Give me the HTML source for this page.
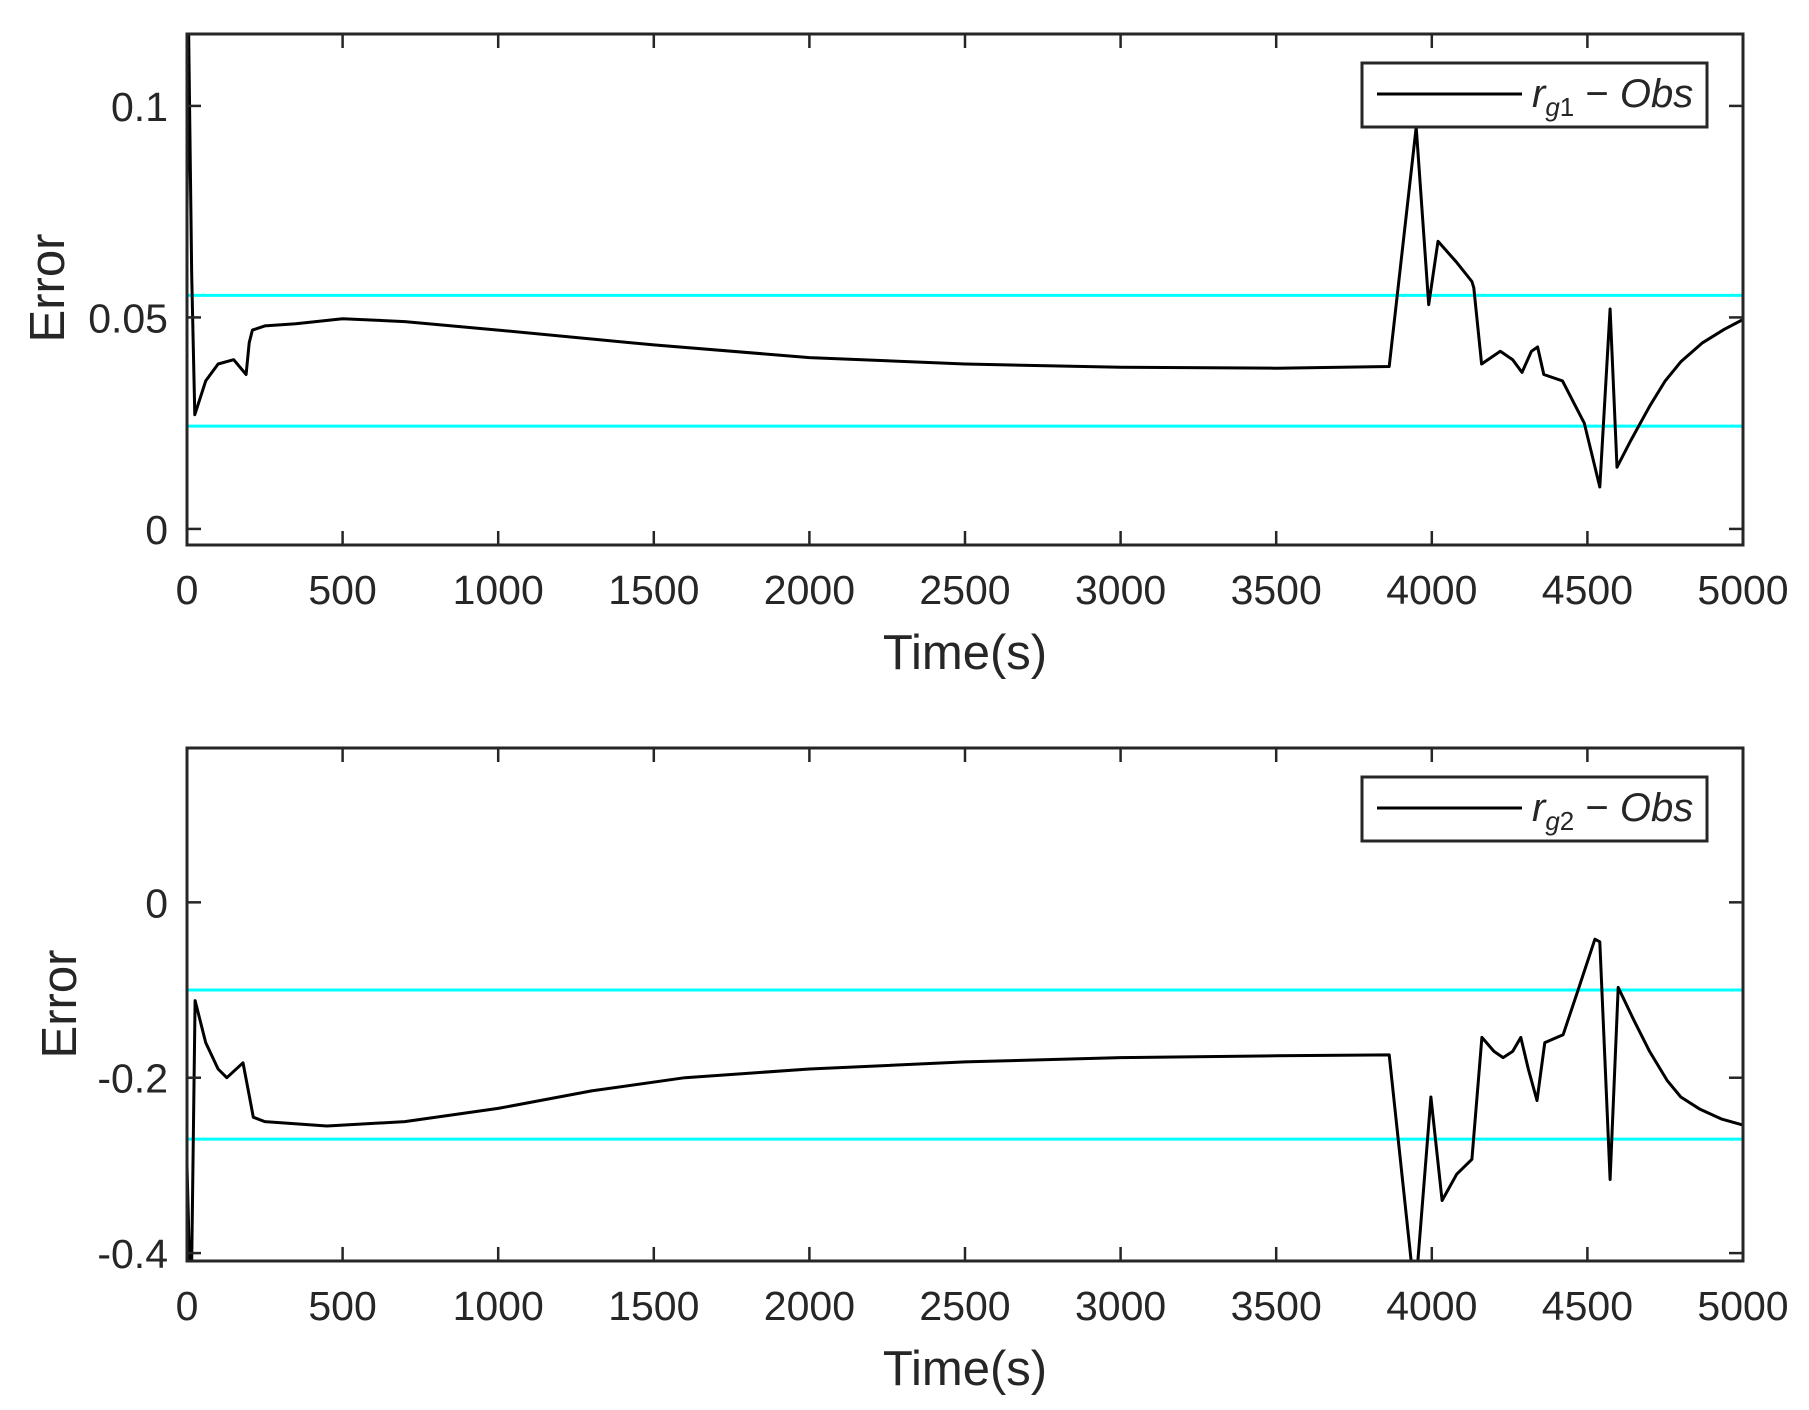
<!DOCTYPE html>
<html><head><meta charset="utf-8"><style>
html,body{margin:0;padding:0;background:#fff;}
svg{display:block;}
text{font-family:"Liberation Sans",sans-serif;fill:#262626;}
</style></head><body>
<svg id="chart" width="1809" height="1410" viewBox="0 0 1809 1410" xmlns="http://www.w3.org/2000/svg"></svg>
<script>
const xTicks=[0,500,1000,1500,2000,2500,3000,3500,4000,4500,5000];
const y1Ticks=[0,0.05,0.1];
const y1TickLabels=["0","0.05","0.1"];
const y2Ticks=[-0.4,-0.2,0];
const y2TickLabels=["-0.4","-0.2","0"];
const bounds1=[0.0552,0.0243];
const bounds2=[-0.1,-0.27];
const t1=[0,5,15,25,60,100,150,190,200,210,250,350,500,700,1000,1500,2000,2500,3000,3500,3863,3950,3990,4020,4080,4129,4135,4160,4220,4260,4290,4320,4340,4360,4420,4490,4540,4573,4595,4640,4700,4750,4800,4870,4940,5000];
const v1=[0.075,0.118,0.06,0.027,0.035,0.039,0.040,0.0365,0.044,0.047,0.048,0.0485,0.0497,0.0490,0.0470,0.0435,0.0405,0.0390,0.0382,0.0380,0.0384,0.095,0.053,0.068,0.063,0.0585,0.057,0.039,0.042,0.040,0.037,0.042,0.043,0.0365,0.035,0.025,0.0099,0.052,0.0146,0.021,0.029,0.035,0.0395,0.0440,0.0472,0.0495];
const t2=[0,8,15,26,60,100,128,180,200,213,250,450,700,1000,1300,1600,2000,2500,3000,3500,3863,3946,3997,4033,4080,4129,4161,4200,4229,4260,4286,4310,4338,4363,4422,4470,4524,4540,4573,4599,4650,4700,4756,4800,4862,4930,5000];
const v2=[-0.3,-0.41,-0.41,-0.112,-0.16,-0.19,-0.2,-0.183,-0.22,-0.245,-0.25,-0.255,-0.25,-0.235,-0.215,-0.2,-0.19,-0.182,-0.177,-0.175,-0.174,-0.45,-0.222,-0.34,-0.31,-0.293,-0.154,-0.17,-0.177,-0.17,-0.154,-0.19,-0.226,-0.16,-0.151,-0.1,-0.042,-0.045,-0.316,-0.097,-0.135,-0.17,-0.203,-0.222,-0.236,-0.247,-0.254];

const NS="http://www.w3.org/2000/svg";
const svg=document.getElementById('chart');
function mk(tag,attrs,parent){const e=document.createElementNS(NS,tag);for(const k in attrs)e.setAttribute(k,attrs[k]);(parent||svg).appendChild(e);return e;}
const X0=187,X1=1743;
function xs(t){return X0+(t/5000)*(X1-X0);}

function panel(idx,top,bottom,yMin,yMax,yTicks,yLabels,bnds,tt,vv,legendY,legendSub){
  const ys=v=>bottom-(v-yMin)/(yMax-yMin)*(bottom-top);
  const g=mk('g',{});
  
  
  const cp=mk('clipPath',{id:'clip'+idx},g);
  mk('rect',{x:X0,y:top,width:X1-X0,height:bottom-top},cp);
  const pg=mk('g',{'clip-path':'url(#clip'+idx+')'},g);
  bnds.forEach((b,i)=>{
    const l=mk('line',{x1:X0,x2:X1,y1:ys(b),y2:ys(b),stroke:'#00ffff','stroke-width':3},pg);
    
    
  });
  const pts=tt.map((t,i)=>xs(t).toFixed(1)+','+ys(vv[i]).toFixed(1)).join(' ');
  const pl=mk('polyline',{points:pts,fill:'none',stroke:'#000','stroke-width':3,'stroke-linejoin':'round'},pg);
  
  
  // ticks
  xTicks.forEach(t=>{
    const x=xs(t);
    mk('line',{x1:x,x2:x,y1:bottom,y2:bottom-14,stroke:'#262626','stroke-width':2.5},g);
    mk('line',{x1:x,x2:x,y1:top,y2:top+14,stroke:'#262626','stroke-width':2.5},g);
    const tx=mk('text',{x:x,y:bottom+59,'font-size':41,'text-anchor':'middle'},g);
    tx.textContent=t;
    
    
  });
  yTicks.forEach((v,i)=>{
    const y=ys(v);
    mk('line',{x1:X0,x2:X0+14,y1:y,y2:y,stroke:'#262626','stroke-width':2.5},g);
    mk('line',{x1:X1,x2:X1-14,y1:y,y2:y,stroke:'#262626','stroke-width':2.5},g);
    const tx=mk('text',{x:168,y:y+15,'font-size':41,'text-anchor':'end'},g);
    tx.textContent=yLabels[i];
    
    
  });
  const fr=mk('rect',{x:X0,y:top,width:X1-X0,height:bottom-top,fill:'none',stroke:'#262626','stroke-width':3},g);
  
  
  const xl=mk('text',{x:(X0+X1)/2,y:bottom+124,'font-size':49,'text-anchor':'middle'},g);
  xl.textContent='Time(s)';
  
  
  const ylx=idx==1?48:60, yly=idx==1?288:1004;
  const yl=mk('text',{x:ylx,y:yly,'font-size':49,'text-anchor':'middle','dominant-baseline':'central',transform:'rotate(-90 '+ylx+' '+yly+')'},g);
  yl.textContent='Error';
  
  
  // legend
  const lg=mk('g',{},g);
  
  
  mk('rect',{x:1362,y:legendY,width:345,height:64,fill:'#fff',stroke:'#262626','stroke-width':3},lg);
  mk('line',{x1:1377,x2:1522,y1:legendY+31,y2:legendY+31,stroke:'#000','stroke-width':3},lg);
  const lt=mk('text',{x:1532,y:legendY+44,'font-size':40,'font-family':'Liberation Serif, serif','font-style':'italic',fill:'#000'},lg);
  
  
  lt.innerHTML='r<tspan font-size="26" dy="9">g</tspan><tspan font-size="26" font-style="normal">'+legendSub+'</tspan><tspan dy="-9" font-style="normal"> − </tspan>Obs';
}
panel(1,34,545,-0.0038,0.117,y1Ticks,y1TickLabels,bounds1,t1,v1,63,'1');
panel(2,748,1261,-0.409,0.176,y2Ticks,y2TickLabels,bounds2,t2,v2,777,'2');
</script>
</body></html>
